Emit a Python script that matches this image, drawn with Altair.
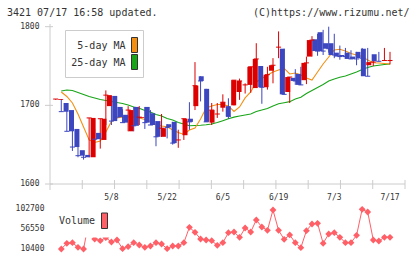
import altair as alt
import pandas as pd

# ---------------- data ----------------
dates = ["4/21","4/22","4/23","4/24","4/25","4/28","4/30","5/1","5/2","5/7","5/8","5/9",
         "5/12","5/13","5/14","5/15","5/16","5/19","5/20","5/21","5/22","5/23",
         "5/26","5/27","5/28","5/29","5/30","6/2","6/3","6/4","6/5","6/6",
         "6/9","6/10","6/11","6/12","6/13","6/16","6/17","6/18","6/19","6/20",
         "6/23","6/24","6/25","6/26","6/27","6/30","7/1","7/2","7/3","7/4",
         "7/7","7/8","7/9","7/10","7/11","7/14","7/15","7/16","7/17"]

opens  = [1707,1703,1694,1670,1643,1637,1634,1665,1656,1699,1712,1698,1688,1667,1698,1684,
          1698,1690,1680,1660,1676,1679,1656,1662,1683,1699,1737,1721,1678,1689,1697,1699,
          1700,1717,1726,1726,1722,1750,1723,1744,1774,1772,1717,1735,1740,1732,1762,1784,
          1793,1779,1779,1767,1764,1767,1762,1768,1772,1751,1765,1757,1757]
highs  = [1708,1708,1694,1670,1650,1637,1684,1670,1683,1719,1712,1698,1695,1699,1698,1699,
          1698,1694,1680,1689,1676,1679,1669,1683,1704,1755,1737,1721,1703,1703,1714,1709,
          1732,1734,1728,1749,1779,1750,1749,1760,1794,1772,1736,1746,1749,1762,1788,1791,
          1796,1800,1791,1776,1773,1770,1768,1773,1773,1763,1768,1773,1768]
lows   = [1707,1692,1667,1642,1634,1631,1634,1655,1645,1675,1675,1685,1678,1667,1667,1675,
          1670,1675,1648,1660,1658,1650,1646,1656,1669,1694,1705,1679,1675,1684,1692,1683,
          1700,1707,1715,1716,1722,1702,1720,1728,1760,1714,1703,1726,1726,1727,1762,1763,
          1764,1767,1760,1758,1762,1759,1751,1758,1737,1750,1756,1757,1752]
closes = [1708,1692,1667,1647,1636,1634,1684,1657,1683,1713,1680,1685,1678,1694,1674,1685,
          1678,1675,1660,1671,1672,1652,1656,1683,1679,1725,1731,1679,1694,1689,1704,1686,
          1732,1731,1726,1749,1759,1723,1739,1751,1774,1714,1736,1731,1726,1754,1783,1769,
          1769,1772,1764,1762,1762,1759,1759,1760,1737,1755,1756,1757,1757]

# moving averages as drawn (candles 1..60)
ma5 = [1717.0,1711.3,1703.0,1689.0,1672.5,1656.0,1652.8,1654.7,1666.1,1679.5,
       1683.9,1685.2,1685.6,1685.2,1683.9,1682.0,1679.5,1675.7,1673.8,1672.9,
       1668.7,1665.5,1663.0,1668.7,1671.2,1682.7,1696.7,1699.2,1701.1,1701.1,
       1699.2,1692.2,1697.9,1709.4,1717.0,1729.7,1734.2,1738.6,1742.4,1745.0,
       1746.9,1739.9,1741.1,1738.6,1734.8,1732.2,1742.4,1752.6,1761.5,1770.4,
       1771.3,1769.1,1765.9,1764.0,1762.1,1757.7,1754.2,1753.9,1753.2,1752.6]
ma25 = [1718.3,1719.5,1718.9,1716.4,1713.8,1711.3,1709.4,1707.5,1706.2,1704.9,
        1703.6,1702.4,1700.5,1697.9,1696.3,1693.5,1691.6,1688.4,1686.5,1683.3,
        1681.4,1678.2,1676.3,1674.0,1674.4,1674.7,1675.3,1676.3,1678.2,1680.5,
        1682.9,1685.0,1686.5,1687.8,1689.0,1692.2,1694.1,1696.0,1699.2,1702.1,
        1703.4,1704.7,1708.1,1710.3,1715.1,1718.9,1722.7,1726.5,1731.0,1733.5,
        1735.7,1737.3,1739.9,1742.4,1745.6,1748.1,1750.0,1750.9,1751.9,1752.6]

volume = [10400,23650,25050,14350,10400,77800,33650,29700,36700,26700,
          31300,11100,15750,25050,19700,14350,17400,25050,22000,11100,
          17400,17400,25050,60850,49200,33650,31300,29700,19000,25050,
          48300,49900,37600,59200,49900,77800,61550,53900,101100,53900,
          32950,43000,25050,13400,52950,68500,70150,23650,45300,48300,
          37600,25050,25050,42250,102700,96400,31300,29000,37600,37600]

date_labels = ["5/8", "5/22", "6/5", "6/19", "7/3", "7/17"]
price_ticks = [1600, 1700, 1800]
ma_names = ["5-day MA", "25-day MA"]
title_left = "3421 07/17 16:58 updated."
title_right = "(C)https://www.rizumu.net/"

# ---------------- styles ----------------
RED = "#dc0000"
BLUE = "#3c46be"
ORANGE = "#f39013"
GREEN = "#18a518"
VOLC = "#ff5f67"
AXIS = "#cccccc"
TXT = "#333333"
MONO = "DejaVu Sans Mono"

n = len(dates)
cdf = pd.DataFrame({"i": list(range(n)), "date": dates, "open": opens, "high": highs,
                    "low": lows, "close": closes})
cdf["col"] = [RED if c >= o else BLUE for o, c in zip(opens, closes)]
cdf["lo"] = cdf["i"] - 0.45
cdf["hi"] = cdf["i"] + 0.45

mdf = pd.DataFrame({"i": list(range(1, n)), "ma5": ma5, "ma25": ma25})
vdf = pd.DataFrame({"i": list(range(1, n)), "vol": volume})
vmin, vmax = min(volume), max(volume)
vlab = pd.DataFrame({"v": [vmin, (vmin + vmax) / 2, vmax]})
vlab["t"] = vlab["v"].map(lambda v: f"{v:.0f}")

XS = alt.Scale(domain=[0, n - 1], range=[55.7, 390], nice=False, zero=False)
PS = alt.Scale(domain=[1600, 1800], range=[184, 26.7], nice=False, zero=False)
VS = alt.Scale(domain=[vmin, vmax], range=[249, 209.3], nice=False, zero=False)
TS = alt.Scale(domain=[0, 11], range=[50, 405], nice=False, zero=False)

def X(f, s=XS):
    return alt.X(f, scale=s, axis=None)

def Y(f, s=PS):
    return alt.Y(f, scale=s, axis=None)

col = alt.Color("col:N", scale=None)

# axes
yaxis = alt.Chart(pd.DataFrame({"k": [0]})).mark_rule(color=AXIS).encode(
    x=X("k:Q", TS), y=alt.value(24), y2=alt.value(190))
xaxis = alt.Chart(pd.DataFrame({"k": [0], "k2": [11], "p": [1600]})).mark_rule(color=AXIS).encode(
    x=X("k:Q", TS), x2="k2:Q", y=Y("p:Q"))
xticks = alt.Chart(pd.DataFrame({"k": list(range(1, 12))})).mark_rule(color=AXIS).encode(
    x=X("k:Q", TS), y=alt.value(180), y2=alt.value(189))
yticks = alt.Chart(pd.DataFrame({"p": price_ticks})).mark_rule(color=AXIS).encode(
    x=alt.value(45), x2=alt.value(53), y=Y("p:Q"))
ylabels = alt.Chart(pd.DataFrame({"p": price_ticks})).mark_text(
    align="right", baseline="middle", font=MONO, fontSize=8, color=TXT).encode(
    x=alt.value(39.5), y=Y("p:Q"), text="p:Q")
dl = pd.DataFrame({"t": date_labels, "i": [dates.index(d) for d in date_labels]})
xlabels = alt.Chart(dl).mark_text(
    align="center", baseline="middle", font=MONO, fontSize=8, color=TXT).encode(
    x=X("i:Q"), y=alt.value(198), text="t:N")

# candles
wicks = alt.Chart(cdf).mark_rule(strokeWidth=1).encode(
    x=X("i:Q"), y=Y("low:Q"), y2="high:Q", color=col)
bodies = alt.Chart(cdf).mark_bar(size=5).encode(
    x=X("i:Q"), y=Y("open:Q"), y2="close:Q", color=col)
closes_t = alt.Chart(cdf).mark_rule(strokeWidth=1).encode(
    x=X("lo:Q"), x2="hi:Q", y=Y("close:Q"), color=col)

# moving averages
l25 = alt.Chart(mdf).mark_line(color=GREEN, strokeWidth=1.1).encode(x=X("i:Q"), y=Y("ma25:Q"))
l5 = alt.Chart(mdf).mark_line(color=ORANGE, strokeWidth=1.1).encode(x=X("i:Q"), y=Y("ma5:Q"))

# main legend
one = pd.DataFrame({"a": [0]})
lbox = alt.Chart(one).mark_rect(fill="white", stroke=AXIS, strokeWidth=1).encode(
    x=alt.value(65.5), x2=alt.value(143.5), y=alt.value(30.5), y2=alt.value(77.5))
lt1 = alt.Chart(pd.DataFrame({"t": [ma_names[0]]})).mark_text(
    align="right", baseline="middle", font=MONO, fontSize=10, color=TXT).encode(
    x=alt.value(125.5), y=alt.value(46), text="t:N")
lt2 = alt.Chart(pd.DataFrame({"t": [ma_names[1]]})).mark_text(
    align="right", baseline="middle", font=MONO, fontSize=10, color=TXT).encode(
    x=alt.value(125.5), y=alt.value(63), text="t:N")
ls1 = alt.Chart(one).mark_rect(fill=ORANGE, stroke="#333333", strokeWidth=1).encode(
    x=alt.value(131.5), x2=alt.value(137.5), y=alt.value(37.5), y2=alt.value(52.5))
ls2 = alt.Chart(one).mark_rect(fill=GREEN, stroke="#333333", strokeWidth=1).encode(
    x=alt.value(131.5), x2=alt.value(137.5), y=alt.value(54.5), y2=alt.value(69.5))

# volume
vline = alt.Chart(vdf).mark_line(color=VOLC, strokeWidth=1).encode(x=X("i:Q"), y=Y("vol:Q", VS))
vpts = alt.Chart(vdf).mark_point(shape="diamond", filled=True, size=46, color=VOLC, opacity=1).encode(
    x=X("i:Q"), y=Y("vol:Q", VS))
vmask = alt.Chart(one).mark_rect(fill="white").encode(
    x=alt.value(52), x2=alt.value(112), y=alt.value(206), y2=alt.value(237.5))
vtext = alt.Chart(pd.DataFrame({"t": ["Volume"]})).mark_text(
    align="left", baseline="middle", font=MONO, fontSize=10, color=TXT).encode(
    x=alt.value(59), y=alt.value(221), text="t:N")
vsw = alt.Chart(one).mark_rect(fill=VOLC, stroke="#333333", strokeWidth=1).encode(
    x=alt.value(101.5), x2=alt.value(107.5), y=alt.value(213), y2=alt.value(228.5))
vlabels = alt.Chart(vlab).mark_text(
    align="right", baseline="middle", font=MONO, fontSize=8, color=TXT).encode(
    x=alt.value(44.5), y=Y("v:Q", VS), text="t:N")

# titles
tl = alt.Chart(pd.DataFrame({"t": [title_left]})).mark_text(
    align="left", baseline="middle", font=MONO, fontSize=10, color=TXT).encode(
    x=alt.value(7), y=alt.value(13), text="t:N")
tr = alt.Chart(pd.DataFrame({"t": [title_right]})).mark_text(
    align="right", baseline="middle", font=MONO, fontSize=10, color=TXT).encode(
    x=alt.value(409.5), y=alt.value(13), text="t:N")

chart = alt.layer(
    yaxis, xaxis, xticks, yticks, ylabels, xlabels,
    l25, l5, wicks, bodies, closes_t,
    lbox, lt1, lt2, ls1, ls2,
    vline, vpts, vmask, vtext, vsw, vlabels,
    tl, tr,
).resolve_scale(x="independent", y="independent").properties(
    width=420, height=259, padding=0,
    autosize=alt.AutoSizeParams(type="none"),
    background="white",
).configure_view(stroke=None)

chart.save("out.html", embed_options={"renderer": "svg", "actions": False})
